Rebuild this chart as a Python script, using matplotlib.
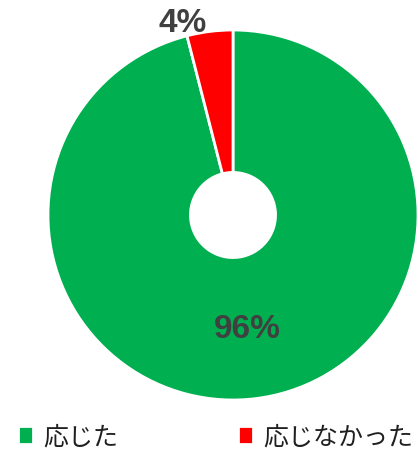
import numpy as np
import matplotlib
matplotlib.use('Agg')
import matplotlib.pyplot as plt

plt.rcParams['font.family'] = ['Noto Sans CJK JP', 'DejaVu Sans']

# data
labels = ['応じた', '応じなかった']
values = [96, 4]
colors = ['#00B050', '#FF0000']

fig = plt.figure(figsize=(4.18, 4.52), dpi=100)
ax = fig.add_axes([48 / 418, 51 / 452, 370 / 418, 370 / 452])

wedges, _ = ax.pie(values, colors=colors, startangle=90, counterclock=False,
                   radius=1.0, wedgeprops=dict(width=0.77, edgecolor='white', linewidth=2))
ax.set_xlim(-1, 1)
ax.set_ylim(-1, 1)
ax.set_aspect('equal')
ax.axis('off')

# percentage labels
total = sum(values)
start = 90.0
label_r = [0.62, 1.05]
label_dx = [0.0, -0.14]
for v, r, dx in zip(values, label_r, label_dx):
    mid = np.deg2rad(start - v / total * 360 / 2)
    ax.text(r * np.cos(mid) + dx, r * np.sin(mid), f'{v}%', ha='center', va='center',
            fontsize=24, fontweight='bold', color='#404040', family='Liberation Sans')
    start -= v / total * 360

# legend at the bottom
fig.legend(wedges, labels, loc='center left', bbox_to_anchor=(5 / 418, 14 / 452),
           ncol=2, frameon=False, fontsize=18, handlelength=0.6, handleheight=0.75,
           handletextpad=0.45, columnspacing=4.75, borderpad=0, labelcolor='#202020')

fig.savefig('out.png', dpi=100)
